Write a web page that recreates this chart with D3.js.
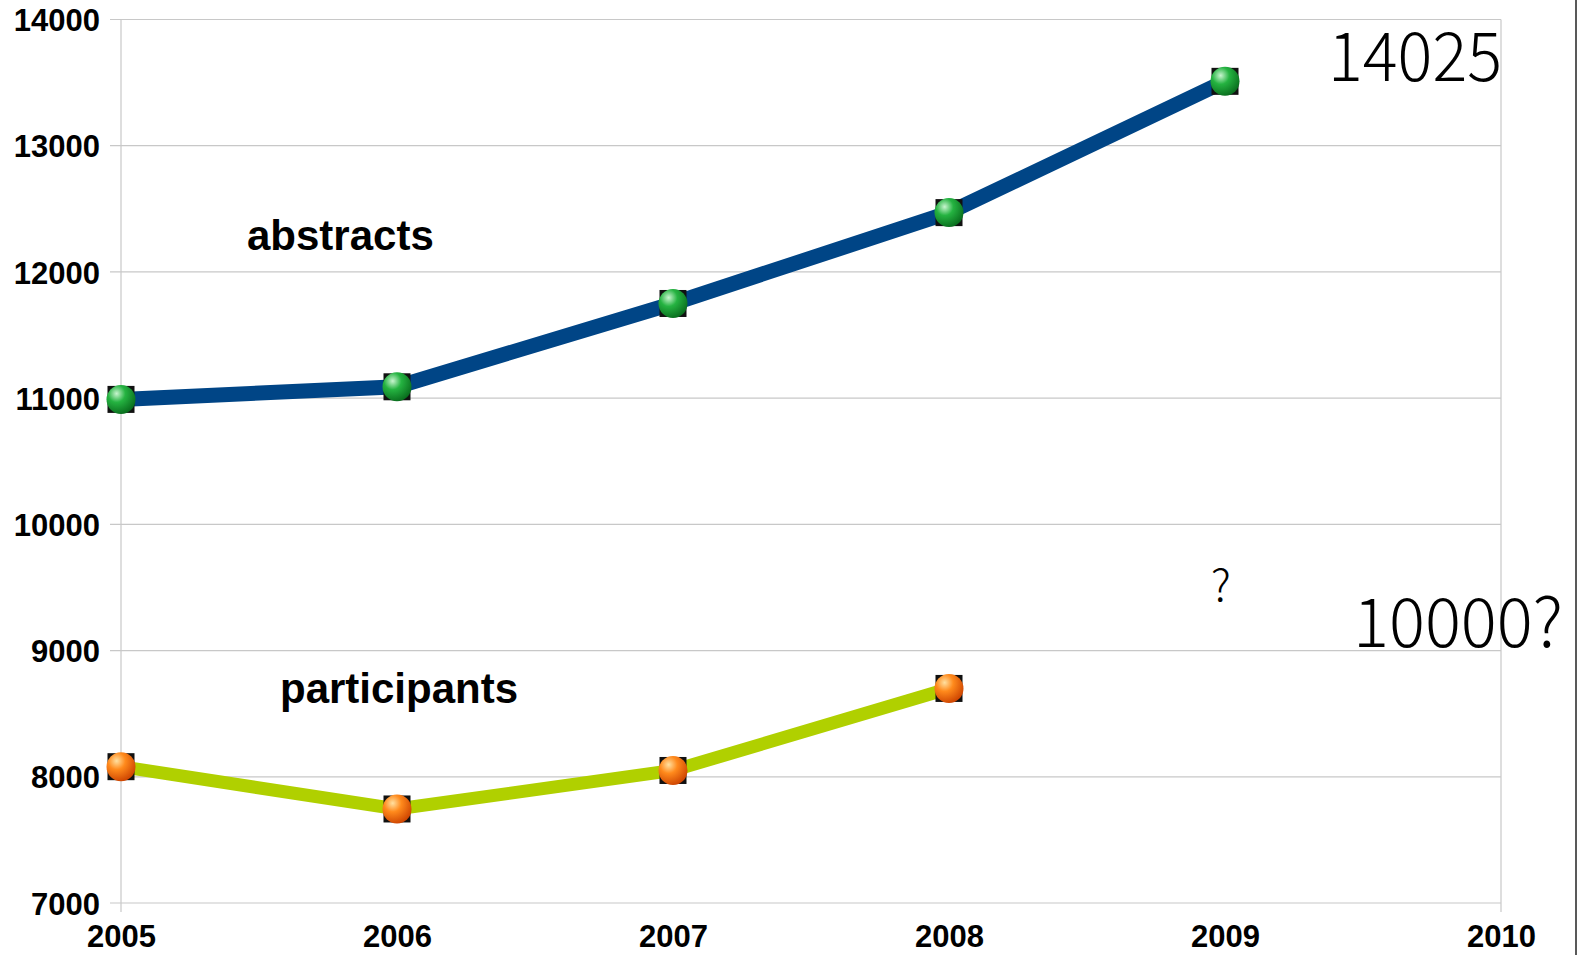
<!DOCTYPE html>
<html lang="en">
<head>
  <meta charset="UTF-8">
  <title>abstracts and participants</title>
  <script type="text/javascript" src="https://cdn.jsdelivr.net/npm/d3@7"></script>
  <style>
    body { margin: 0; background: #fff; }
    .tick text { font-family: "Liberation Sans", Arial, sans-serif; font-weight: bold; font-size: 31px; fill: #000; }
  </style>
</head>
<body>
  <script type="text/javascript">

  // data
  var years = [2005, 2006, 2007, 2008, 2009, 2010];
  var yTicks = [7000, 8000, 9000, 10000, 11000, 12000, 13000, 14000];
  var abstracts = [10990, 11090, 11750, 12470, 13510];
  var participants = [8080, 7745, 8050, 8700];

  var w = 1579;
  var h = 955;

  var svg = d3.select("body")
    .append("svg")
    .attr("width", w)
    .attr("height", h);

  var xScale = d3.scaleLinear().domain([2005, 2010]).range([121, 1501]);
  var yScale = d3.scaleLinear().domain([7000, 14000]).range([903, 19.5]);

  //gradients for the ball markers
  var defs = svg.append("defs");
  function ball(id, light, mid, dark) {
    var g = defs.append("radialGradient").attr("id", id)
      .attr("cx", "35%").attr("cy", "30%").attr("r", "75%");
    g.append("stop").attr("offset", "0%").attr("stop-color", light);
    g.append("stop").attr("offset", "40%").attr("stop-color", mid);
    g.append("stop").attr("offset", "100%").attr("stop-color", dark);
  }
  ball("greenBall", "#c8f5cf", "#25b341", "#086a1c");
  ball("orangeBall", "#ffe0a0", "#ff8a1c", "#cc4200");

  //gridlines
  svg.append("g")
    .selectAll("line")
    .data(yTicks)
    .enter()
    .append("line")
    .attr("x1", 110)
    .attr("x2", xScale(2010))
    .attr("y1", function(d) { return yScale(d); })
    .attr("y2", function(d) { return yScale(d); })
    .attr("stroke", "#c8c8c8")
    .attr("stroke-width", 1.2);

  // left and right frame lines
  svg.append("g")
    .selectAll("line")
    .data([2005, 2010])
    .enter()
    .append("line")
    .attr("x1", function(d) { return xScale(d); })
    .attr("x2", function(d) { return xScale(d); })
    .attr("y1", yScale(14000))
    .attr("y2", 912)
    .attr("stroke", "#c8c8c8")
    .attr("stroke-width", 1.2);

  // thin dark edge on the far right
  svg.append("line")
    .attr("x1", 1576).attr("x2", 1576)
    .attr("y1", 0).attr("y2", h)
    .attr("stroke", "#222").attr("stroke-width", 1.5);

  //Y axis labels
  var yAxis = d3.axisLeft(yScale).tickValues(yTicks).tickSize(0).tickPadding(21).tickFormat(d3.format("d"));
  svg.append("g")
    .attr("transform", "translate(121,0)")
    .call(yAxis)
    .call(function(g) { g.select(".domain").remove(); })
    .selectAll("text").attr("dy", "0.36em");

  //X axis labels
  var xAxis = d3.axisBottom(xScale).tickValues(years).tickSize(0).tickPadding(22).tickFormat(d3.format("d"));
  svg.append("g")
    .attr("transform", "translate(0,903)")
    .call(xAxis)
    .call(function(g) { g.select(".domain").remove(); });

  var line = d3.line()
    .x(function(d, i) { return xScale(years[i]); })
    .y(function(d) { return yScale(d); });

  svg.append("path")
    .datum(abstracts)
    .attr("d", line)
    .attr("fill", "none")
    .attr("stroke", "#004586")
    .attr("stroke-width", 15);

  svg.append("path")
    .datum(participants)
    .attr("d", line)
    .attr("fill", "none")
    .attr("stroke", "#b0d000")
    .attr("stroke-width", 13);

  function markers(data, grad) {
    var g = svg.append("g")
      .selectAll("g")
      .data(data)
      .enter()
      .append("g")
      .attr("transform", function(d, i) {
        return "translate(" + xScale(years[i]) + "," + yScale(d) + ")";
      });
    g.append("rect")
      .attr("x", -13.5).attr("y", -13.5)
      .attr("width", 27).attr("height", 27)
      .attr("fill", "#111");
    g.append("circle")
      .attr("r", 14.5)
      .attr("fill", "url(#" + grad + ")");
  }
  markers(abstracts, "greenBall");
  markers(participants, "orangeBall");

  // series labels
  svg.append("text")
    .attr("x", 247).attr("y", 250)
    .style("font-family", "Liberation Sans, Arial, sans-serif")
    .style("font-weight", "bold")
    .style("font-size", "42px")
    .text("abstracts");

  svg.append("text")
    .attr("x", 280).attr("y", 703)
    .style("font-family", "Liberation Sans, Arial, sans-serif")
    .style("font-weight", "bold")
    .style("font-size", "42px")
    .text("participants");

  // hand-written notes
  var note = "Noto Sans CJK KR, Noto Sans, sans-serif";
  svg.append("text")
    .attr("x", 1328).attr("y", 81)
    .attr("textLength", 174)
    .attr("lengthAdjust", "spacingAndGlyphs")
    .style("font-family", note)
    .style("font-weight", 300)
    .style("font-size", "68px")
    .text("14025");

  svg.append("text")
    .attr("x", 1211).attr("y", 601)
    .style("font-family", note)
    .style("font-weight", 300)
    .style("font-size", "44px")
    .text("?");

  svg.append("text")
    .attr("x", 1353).attr("y", 647)
    .attr("textLength", 210)
    .attr("lengthAdjust", "spacingAndGlyphs")
    .style("font-family", note)
    .style("font-weight", 300)
    .style("font-size", "68px")
    .text("10000?");

  </script>
</body>
</html>
